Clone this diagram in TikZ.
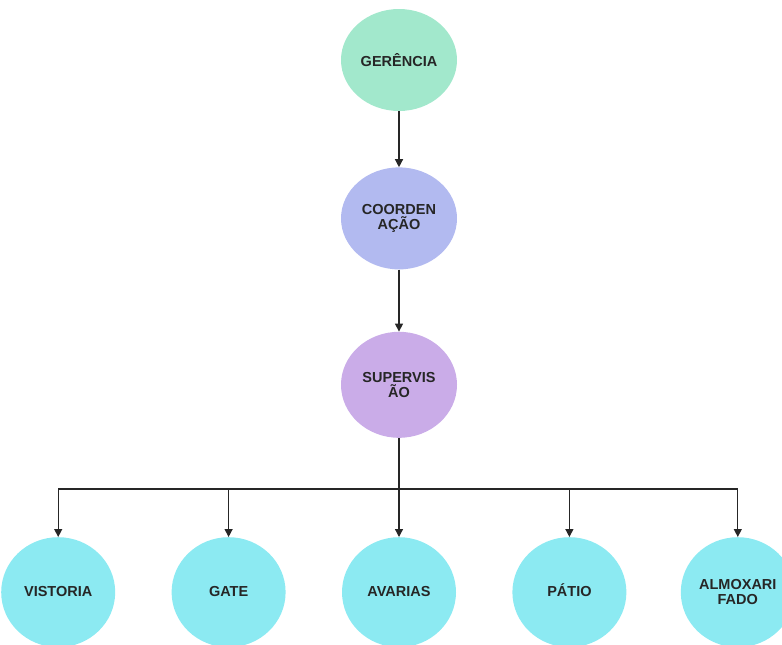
\documentclass[tikz,border=0pt]{standalone}
\usepackage{fontspec}
\setmainfont{Liberation Sans}
\usepackage{tikz}
\usetikzlibrary{arrows.meta, positioning, shapes.geometric, calc}
\definecolor{gergreen}{RGB}{162,232,204}
\definecolor{coorblue}{RGB}{178,186,240}
\definecolor{suplilac}{RGB}{202,172,232}
\definecolor{depcyan}{RGB}{140,234,242}

\begin{document}
\begin{tikzpicture}[
  org/.style={ellipse, minimum width=116pt, minimum height=102pt, inner sep=0pt,
              font=\fontsize{14.5}{15}\selectfont\bfseries, text=black!85, align=center},
  dept/.style={org, fill=depcyan, minimum width=114pt, minimum height=110pt},
  one/.style={text height=11pt, text depth=2pt},
  arr/.style={-{Triangle[length=8pt, width=8pt]}, line width=1.3pt, black!85}
]
\clip (0pt,0pt) rectangle (782pt,-645pt);
\useasboundingbox (0pt,0pt) rectangle (782pt,-645pt);

\node[org, fill=gergreen] (ger) at (399pt,-60pt) {GERÊNCIA};
\node[org, fill=coorblue, below=56pt of ger] (coo) {COORDEN\\AÇÃO};
\node[org, fill=suplilac, minimum height=106pt, below=62pt of coo] (sup) {SUPERVIS\\ÃO};

\node[dept, one, below=99pt of sup] (ava) {AVARIAS};
\node[dept, one, left=56pt of ava] (gat) {GATE};
\node[dept, one, left=56pt of gat] (vis) {VISTORIA};
\node[dept, one, right=56pt of ava] (pat) {PÁTIO};
\node[dept, right=54pt of pat] (alm) {ALMOXARI\\FADO};

\draw[arr] (ger) -- (coo);
\draw[arr] (coo) -- (sup);

\coordinate (bus) at ($(sup.south)+(0,-51pt)$);
\draw[line width=1.3pt, black!85] (sup.south) -- (bus);
\draw[line width=1.3pt, black!85] (vis |- bus) -- (alm |- bus);
\foreach \d in {vis, gat, ava, pat, alm}
  \draw[arr] (\d |- bus) -- (\d);
\end{tikzpicture}
\end{document}
